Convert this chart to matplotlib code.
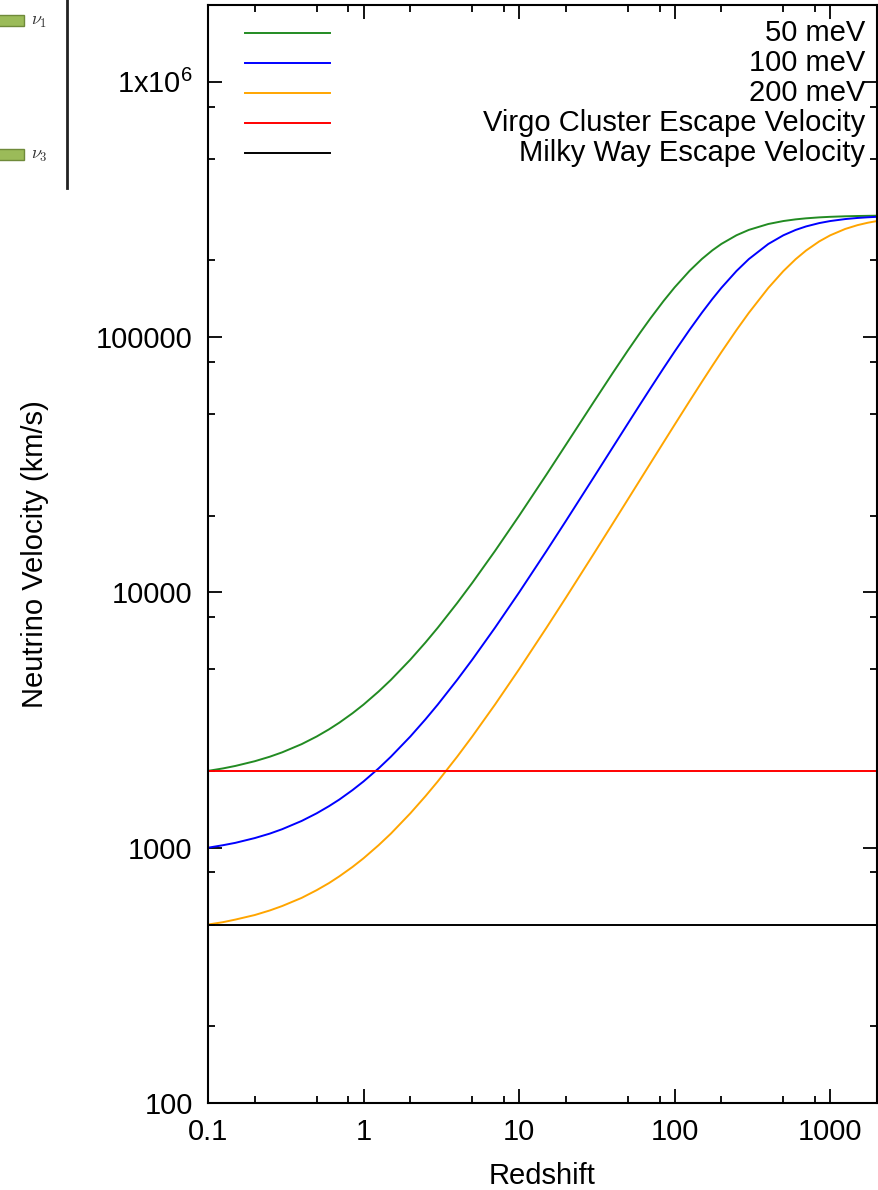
import matplotlib
matplotlib.use('Agg')
import matplotlib.pyplot as plt
from matplotlib.ticker import FixedLocator, FixedFormatter, LogLocator, NullFormatter

# values
redshift = [0.1, 0.125, 0.15, 0.2, 0.25, 0.3, 0.4, 0.5, 0.6, 0.7, 0.85, 1,
            1.25, 1.5, 2, 2.5, 3, 4, 5, 7, 10, 15, 20, 30, 40, 50, 60, 70, 85,
            100, 125, 150, 175, 200, 250, 300, 400, 500, 600, 700, 850, 1000,
            1250, 1500, 1750, 2000]
v_50mev = [2000, 2045, 2091, 2182, 2273, 2364, 2545, 2727, 2909, 3091, 3364,
           3636, 4091, 4545, 5454, 6363, 7270, 9087, 10900, 14530, 19960,
           28950, 37880, 55390, 72340, 88590, 104030, 118580, 138660, 156620,
           182080, 202540, 218860, 231880, 250690, 263070, 277430, 284950,
           289300, 292020, 294520, 296010, 297420, 298200, 298680, 298990]
v_100mev = [1000, 1023, 1045, 1091, 1136, 1182, 1273, 1364, 1455, 1545, 1682,
            1818, 2045, 2273, 2727, 3182, 3636, 4545, 5453, 7271, 9994, 14528,
            19052, 28059, 36990, 45820, 54530, 63100, 75660, 87800, 107010,
            124820, 141180, 156060, 181620, 202170, 231650, 250540, 262970,
            271430, 279710, 284920, 290080, 293000, 294810, 296000]
v_200mev = [500, 511, 523, 545, 568, 591, 636, 682, 727, 773, 841, 909, 1023,
            1136, 1364, 1591, 1818, 2273, 2727, 3636, 4999, 7271, 9540, 14075,
            18600, 23113, 27610, 32088, 38760, 45380, 56260, 66910, 77300,
            87400, 106640, 124480, 155770, 181390, 201990, 218420, 237060,
            250460, 265340, 274630, 280720, 284900]
virgo_escape = 2000
milky_way_escape = 500

labels = ['50 meV', '100 meV', '200 meV', 'Virgo Cluster Escape Velocity',
          'Milky Way Escape Velocity']
colors = ['#228b22', '#0000ff', '#ffa500', '#ff0000', '#000000']

xticks = [0.1, 1, 10, 100, 1000]
xticklabels = ['0.1', '1', '10', '100', '1000']
yticks = [100, 1000, 10000, 100000, 1000000]
yticklabels = ['100', '1000', '10000', '100000', r'1x10$^{6}$']

plt.rcParams['font.family'] = ['Liberation Sans', 'DejaVu Sans']
plt.rcParams['mathtext.fontset'] = 'custom'
plt.rcParams['mathtext.rm'] = 'Liberation Sans'
plt.rcParams['mathtext.it'] = 'Liberation Sans'

fig = plt.figure(figsize=(8.79, 11.90), dpi=100)
ax = fig.add_axes([0.2366, 0.0731, 0.7611, 0.9227])

lw = 1.4
ax.plot(redshift, v_50mev, color=colors[0], lw=lw)
ax.plot(redshift, v_100mev, color=colors[1], lw=lw)
ax.plot(redshift, v_200mev, color=colors[2], lw=lw)
ax.axhline(virgo_escape, color=colors[3], lw=lw)
ax.axhline(milky_way_escape, color=colors[4], lw=lw)

ax.set_xscale('log')
ax.set_yscale('log')

ax.xaxis.set_major_locator(FixedLocator(xticks))
ax.xaxis.set_major_formatter(FixedFormatter(xticklabels))
ax.xaxis.set_minor_locator(LogLocator(base=10, subs=(2, 5, 8), numticks=20))
ax.xaxis.set_minor_formatter(NullFormatter())
ax.yaxis.set_major_locator(FixedLocator(yticks))
ax.yaxis.set_major_formatter(FixedFormatter(yticklabels))
ax.yaxis.set_minor_locator(LogLocator(base=10, subs=(2, 5, 8), numticks=20))
ax.yaxis.set_minor_formatter(NullFormatter())

for axis in ['top', 'bottom', 'left', 'right']:
    ax.spines[axis].set_linewidth(1.5)
ax.tick_params(which='both', direction='in', top=True, right=True,
               width=1.3, labelsize=21)
ax.tick_params(which='major', length=10, pad=11)
ax.tick_params(which='minor', length=5)

ax.set_xlabel('Redshift', fontsize=21)
ax.set_ylabel('Neutrino Velocity (km/s)', fontsize=21)
ax.xaxis.set_label_coords(0.5, -0.054)
ax.yaxis.set_label_coords(-0.238, 0.5)

# gnuplot style key: sample on the left, text right justified
for i, (lab, col) in enumerate(zip(labels, colors)):
    yk = 0.9745 - i * 0.0273
    ax.plot([0.0553, 0.1824], [yk, yk], transform=ax.transAxes, color=col, lw=lw)
    ax.text(0.982, yk, lab, transform=ax.transAxes, ha='right', va='center',
            fontsize=21)

ax.set_xlim(0.1, 2000)
ax.set_ylim(100, 2e6)

# fragment of the neighbouring figure in the top left corner
fa = fig.add_axes([0, 1 - 188 / 1190, 67 / 879, 188 / 1190])
fa.set_xlim(0, 67)
fa.set_ylim(188, 0)
fa.barh([20, 154], [26, 26], left=-2, height=11, color='#9bbb59',
        edgecolor='#6f8a3a', lw=1)
fa.text(31, 21, r'$\nu_1$', fontsize=13, va='center', math_fontfamily='cm',
        color='#333333')
fa.text(31, 155, r'$\nu_3$', fontsize=13, va='center', math_fontfamily='cm',
        color='#333333')
for axis in ['top', 'bottom', 'left']:
    fa.spines[axis].set_visible(False)
fa.spines['right'].set_linewidth(2)
fa.spines['right'].set_color('#222222')
fa.set_xticks([])
fa.set_yticks([])
fa.patch.set_alpha(0)

plt.savefig('out.png', dpi=100)
